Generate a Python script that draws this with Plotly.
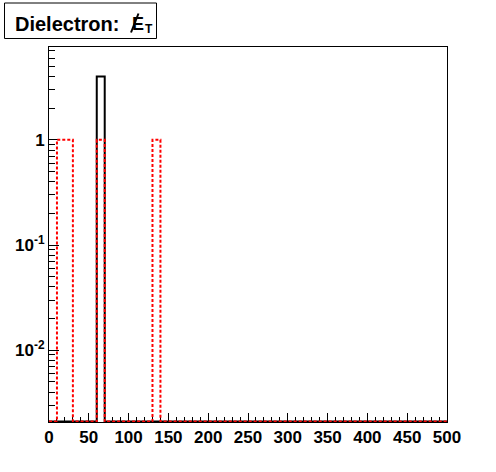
import plotly.graph_objects as go

# Histogram bin edges (50 bins of width 10 from 0 to 500)
bin_edges = list(range(0, 510, 10))

# Black (solid) histogram contents
black_counts = [0, 0, 0, 0, 0, 0, 4, 0, 0, 0,
                0, 0, 0, 0, 0, 0, 0, 0, 0, 0,
                0, 0, 0, 0, 0, 0, 0, 0, 0, 0,
                0, 0, 0, 0, 0, 0, 0, 0, 0, 0,
                0, 0, 0, 0, 0, 0, 0, 0, 0, 0]

# Red (dashed) histogram contents
red_counts = [0, 1, 1, 0, 0, 0, 1, 0, 0, 0,
              0, 0, 0, 1, 0, 0, 0, 0, 0, 0,
              0, 0, 0, 0, 0, 0, 0, 0, 0, 0,
              0, 0, 0, 0, 0, 0, 0, 0, 0, 0,
              0, 0, 0, 0, 0, 0, 0, 0, 0, 0]

x_tick_vals = [0, 50, 100, 150, 200, 250, 300, 350, 400, 450, 500]
y_tick_vals = [0.01, 0.1, 1]
y_tick_text = ["10<sup>-2</sup>", "10<sup>-1</sup>", "1"]

y_log_range = [-2.683, 0.883]
y_floor = 10 ** (y_log_range[0] + 0.004)

W, H = 496, 472
ML, MR, MT, MB = 49, 49, 47, 50
PW, PH = W - ML - MR, H - MT - MB


def px(xp):
    return (xp - ML) / PW


def py(yp):
    return (H - MB - yp) / PH


def step_y(counts):
    ys = [c if c > 0 else y_floor for c in counts]
    return ys + [ys[-1]]


fig = go.Figure()
fig.add_trace(go.Scatter(x=bin_edges, y=step_y(black_counts), mode="lines",
                         line=dict(shape="hv", color="black", width=2),
                         showlegend=False, hoverinfo="skip"))
fig.add_trace(go.Scatter(x=bin_edges, y=step_y(red_counts), mode="lines",
                         line=dict(shape="hv", color="red", width=2, dash="3px,2px"),
                         showlegend=False, hoverinfo="skip"))

minor_y = []
for dec in [0.001, 0.01, 0.1, 1]:
    for m in range(2, 10):
        minor_y.append(dec * m)

FAM = "Liberation Sans, Arial, Helvetica, sans-serif"
tickfont = dict(family=FAM, size=17, color="black", weight="bold")

fig.update_layout(
    width=W, height=H,
    margin=dict(l=ML, r=MR, t=MT, b=MB),
    paper_bgcolor="white", plot_bgcolor="white",
    font=dict(family=FAM, size=15, color="black"),
    xaxis=dict(range=[0, 500], tickvals=x_tick_vals, ticks="inside", ticklen=9,
               tickwidth=1, tickcolor="black", showline=True, linecolor="black",
               linewidth=1, mirror=True, showgrid=False, zeroline=False,
               layer="below traces", tickfont=tickfont,
               minor=dict(dtick=10, tick0=0, ticks="inside", ticklen=5,
                          tickcolor="black", showgrid=False)),
    yaxis=dict(type="log", range=y_log_range, tickmode="array", tickvals=y_tick_vals,
               ticktext=y_tick_text, ticks="inside", ticklen=10, tickwidth=1,
               tickcolor="black", showline=True, linecolor="black", linewidth=1,
               mirror=True, showgrid=False, zeroline=False,
               layer="below traces", tickfont=tickfont,
               minor=dict(tickmode="array", tickvals=minor_y, ticks="inside", ticklen=6,
                          tickcolor="black", showgrid=False)),
)

# Title box (ROOT style)
fig.add_shape(type="rect", xref="paper", yref="paper",
              x0=px(4.5), x1=px(156.5), y0=py(38.5), y1=py(3),
              line=dict(color="black", width=1), fillcolor="white", layer="above")
fig.add_annotation(xref="paper", yref="paper", x=px(13), y=py(23.5),
                   xanchor="left", yanchor="middle", showarrow=False,
                   text="<b>Dielectron:</b>",
                   font=dict(family=FAM, size=20, color="black"))
fig.add_annotation(xref="paper", yref="paper", x=px(130), y=py(23.5),
                   xanchor="left", yanchor="middle", showarrow=False,
                   text="<b>E</b>",
                   font=dict(family=FAM, size=18, color="black"))
fig.add_annotation(xref="paper", yref="paper", x=px(143), y=py(28.5),
                   xanchor="left", yanchor="middle", showarrow=False,
                   text="<b>T</b>",
                   font=dict(family=FAM, size=12, color="black"))
fig.add_shape(type="line", xref="paper", yref="paper",
              x0=px(138.5), y0=py(13.5), x1=px(131), y1=py(32.5),
              line=dict(color="black", width=2), layer="above")

fig.write_html("out.html", config={"displayModeBar": False},
               post_script="document.body.style.margin='0';")
